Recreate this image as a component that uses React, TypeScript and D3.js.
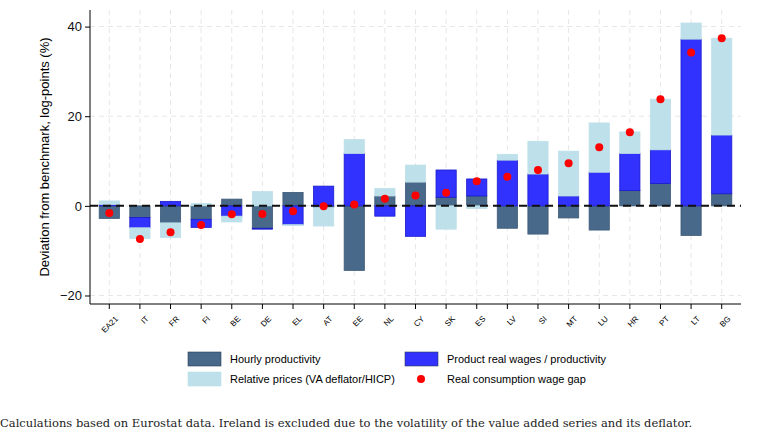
import React, { useEffect, useRef } from 'react';
import * as d3 from 'd3';

const countries = ['EA21', 'IT', 'FR', 'FI', 'BE', 'DE', 'EL', 'AT', 'EE', 'NL', 'CY', 'SK', 'ES', 'LV', 'SI', 'MT', 'LU', 'HR', 'PT', 'LT', 'BG'];
const productivity = [-2.8, -2.6, -3.8, -3.0, 1.5, -5.0, 3.0, -0.4, -14.4, 2.2, 5.3, 1.9, 2.2, -5.0, -6.3, -2.7, -5.4, 3.4, 5.0, -6.6, 2.7];
const realWages = [0.3, -2.3, 1.0, -1.8, -2.3, -0.2, -4.2, 4.4, 11.7, -2.3, -6.8, 6.1, 3.8, 10.2, 7.1, 2.2, 7.5, 8.3, 7.5, 37.2, 13.1];
const relPrices = [0.8, -2.4, -3.3, 0.5, -1.3, 3.2, -0.2, -4.1, 3.1, 1.7, 3.8, -5.2, -0.6, 1.3, 7.3, 10.0, 11.0, 4.8, 11.3, 3.6, 21.6];
const wageGap = [-1.6, -7.4, -5.9, -4.3, -1.9, -1.8, -1.2, -0.1, 0.3, 1.6, 2.3, 2.9, 5.5, 6.5, 8.0, 9.5, 13.1, 16.4, 23.8, 34.2, 37.4];
const yTicks = [-20, 0, 20, 40];

const colors = { prod: '#48698a', wages: '#3232ff', prices: '#bde0ea', dot: '#ff0000' };

export default function App() {
  const ref = useRef<SVGSVGElement>(null);

  useEffect(() => {
    const svg = d3.select(ref.current);
    svg.selectAll('*').remove();
    const left = 90, right = 741, top = 10, bottom = 304;

    const x = d3.scaleBand().domain(countries).range([left, right]).paddingInner(0.34).paddingOuter(0.3);
    const y = d3.scaleLinear().domain([-21.9, 43.7]).range([bottom, top]);

    // grid
    svg.append('g').selectAll('line').data(countries).enter().append('line')
      .attr('x1', d => x(d)! + x.bandwidth() / 2).attr('x2', d => x(d)! + x.bandwidth() / 2)
      .attr('y1', top).attr('y2', bottom)
      .attr('stroke', '#e6e6e6').attr('stroke-dasharray', '5,4');
    svg.append('g').selectAll('line').data(yTicks).enter().append('line')
      .attr('x1', left).attr('x2', right).attr('y1', d => y(d)).attr('y2', d => y(d))
      .attr('stroke', '#e6e6e6').attr('stroke-dasharray', '5,4');

    // stacked bars, positives up and negatives down
    const series = [
      { vals: productivity, color: colors.prod, stroke: '#3d5a78' },
      { vals: realWages, color: colors.wages, stroke: '#1a1acc' },
      { vals: relPrices, color: colors.prices, stroke: '#bde0ea' },
    ];
    const posBase = countries.map(() => 0);
    const negBase = countries.map(() => 0);
    series.forEach(s => {
      countries.forEach((c, i) => {
        const v = s.vals[i];
        let y0, y1;
        if (v >= 0) { y0 = posBase[i]; y1 = y0 + v; posBase[i] = y1; }
        else { y0 = negBase[i]; y1 = y0 + v; negBase[i] = y1; }
        svg.append('rect')
          .attr('x', x(c)!).attr('width', x.bandwidth())
          .attr('y', y(Math.max(y0, y1))).attr('height', Math.abs(y(y0) - y(y1)))
          .attr('fill', s.color).attr('stroke', s.stroke).attr('stroke-width', 0.8);
      });
    });

    // zero line
    svg.append('line').attr('x1', left).attr('x2', right).attr('y1', y(0)).attr('y2', y(0))
      .attr('stroke', '#111').attr('stroke-width', 2).attr('stroke-dasharray', '8,5');

    // dots
    svg.append('g').selectAll('circle').data(countries).enter().append('circle')
      .attr('cx', d => x(d)! + x.bandwidth() / 2).attr('cy', (d, i) => y(wageGap[i]))
      .attr('r', 4).attr('fill', colors.dot);

    // axes
    const yAxis = svg.append('g').attr('transform', `translate(${left},0)`)
      .call(d3.axisLeft(y).tickValues(yTicks).tickSize(5).tickFormat(d3.format('d')));
    yAxis.select('.domain').attr('d', `M0,${top}V${bottom}`);
    yAxis.selectAll('text').attr('font-size', 13).attr('font-family', 'Arial, Liberation Sans, sans-serif').attr('fill', '#111');
    const xAxis = svg.append('g').attr('transform', `translate(0,${bottom})`)
      .call(d3.axisBottom(x).tickSize(5));
    xAxis.select('.domain').attr('d', `M${left},0H${right}`);
    xAxis.selectAll('text').attr('font-size', 8).attr('font-family', 'Arial, Liberation Sans, sans-serif')
      .attr('text-anchor', 'end').attr('dy', '0.3em').attr('transform', 'translate(2,8) rotate(-45)');

    svg.append('text').attr('transform', `translate(49,${(top + bottom) / 2}) rotate(-90)`)
      .attr('text-anchor', 'middle').attr('font-size', 13).attr('font-family', 'Arial, Liberation Sans, sans-serif')
      .text('Deviation from benchmark, log-points (%)');

    // legend
    const legend = [
      { label: 'Hourly productivity', color: colors.prod, x: 188, y: 352, box: true },
      { label: 'Relative prices (VA deflator/HICP)', color: colors.prices, x: 188, y: 372, box: true },
      { label: 'Product real wages / productivity', color: colors.wages, x: 405, y: 352, box: true },
      { label: 'Real consumption wage gap', color: colors.dot, x: 405, y: 372, box: false },
    ];
    legend.forEach(l => {
      if (l.box) svg.append('rect').attr('x', l.x).attr('y', l.y).attr('width', 33).attr('height', 14).attr('fill', l.color)
        .attr('stroke', l.color === colors.prices ? colors.prices : '#2a3f55').attr('stroke-width', 0.6);
      else svg.append('circle').attr('cx', l.x + 16).attr('cy', l.y + 7).attr('r', 4).attr('fill', l.color);
      svg.append('text').attr('x', l.x + 42).attr('y', l.y + 11).attr('font-size', 11)
        .attr('font-family', 'Arial, Liberation Sans, sans-serif').text(l.label);
    });

    svg.append('text').attr('x', 0).attr('y', 427).attr('font-size', 11.5)
      .attr('font-family', 'DejaVu Serif, serif').attr('fill', '#222')
      .text('Calculations based on Eurostat data. Ireland is excluded due to the volatility of the value added series and its deflator.');
  }, []);

  return (
    <div style={{ position: 'absolute', left: 0, top: 0 }}>
      <svg ref={ref} width={776} height={437} style={{ display: 'block', background: '#fff' }} />
    </div>
  );
}
